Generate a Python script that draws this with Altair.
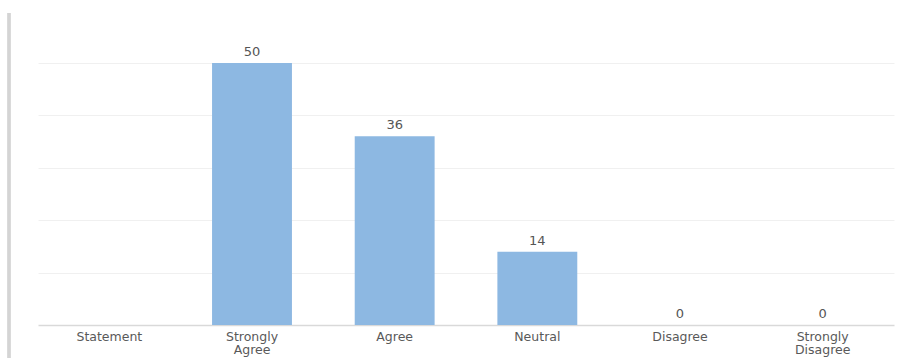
import altair as alt
import pandas as pd

# Survey responses per answer option
categories = ["Statement", "Strongly Agree", "Agree", "Neutral", "Disagree", "Strongly Disagree"]
counts = [None, 50, 36, 14, 0, 0]

df = pd.DataFrame({"category": categories, "count": counts})

font = "DejaVu Sans"

x_enc = alt.X(
    "category:N",
    sort=categories,
    title=None,
    scale=alt.Scale(paddingInner=0.44, paddingOuter=0.22),
    axis=alt.Axis(
        labelAngle=0,
        labelExpr="split(datum.label, ' ')",
        labelFont=font,
        labelFontSize=12.5,
        labelColor="#595959",
        labelLineHeight=13.5,
        labelPadding=5,
        ticks=False,
        grid=False,
        domainColor="#d9d9d9",
        domainWidth=1.5,
    ),
)

y_enc = alt.Y(
    "count:Q",
    title=None,
    scale=alt.Scale(domain=[0, 50], nice=False),
    axis=alt.Axis(
        values=[10, 20, 30, 40, 50],
        labels=False,
        ticks=False,
        domain=False,
        gridColor="#f0f0f0",
        gridWidth=1,
    ),
)

bars = alt.Chart(df).mark_bar(color="#8db8e2").encode(x=x_enc, y=y_enc)

labels = (
    alt.Chart(df)
    .transform_filter("isValid(datum.count)")
    .mark_text(dy=-11, font=font, fontSize=13, color="#555555")
    .encode(
        x=alt.X("category:N", sort=categories),
        y=alt.Y("count:Q"),
        text="count:Q",
    )
)

# Thin grey frame line at the left edge
edge = alt.Chart(df).mark_rule(color="#d4d4d4", strokeWidth=2.5).encode(
    x=alt.value(-29), y=alt.value(-50), y2=alt.value(295)
)

chart = (
    alt.layer(bars, labels, edge)
    .properties(
        width=856,
        height=262,
        background="white",
        autosize=alt.AutoSizeParams(type="none"),
        padding={"left": 38, "top": 63, "right": 16, "bottom": 33},
    )
    .configure_view(strokeWidth=0, stroke="transparent")
)

chart.save("out.html", embed_options={"renderer": "svg", "actions": False})
